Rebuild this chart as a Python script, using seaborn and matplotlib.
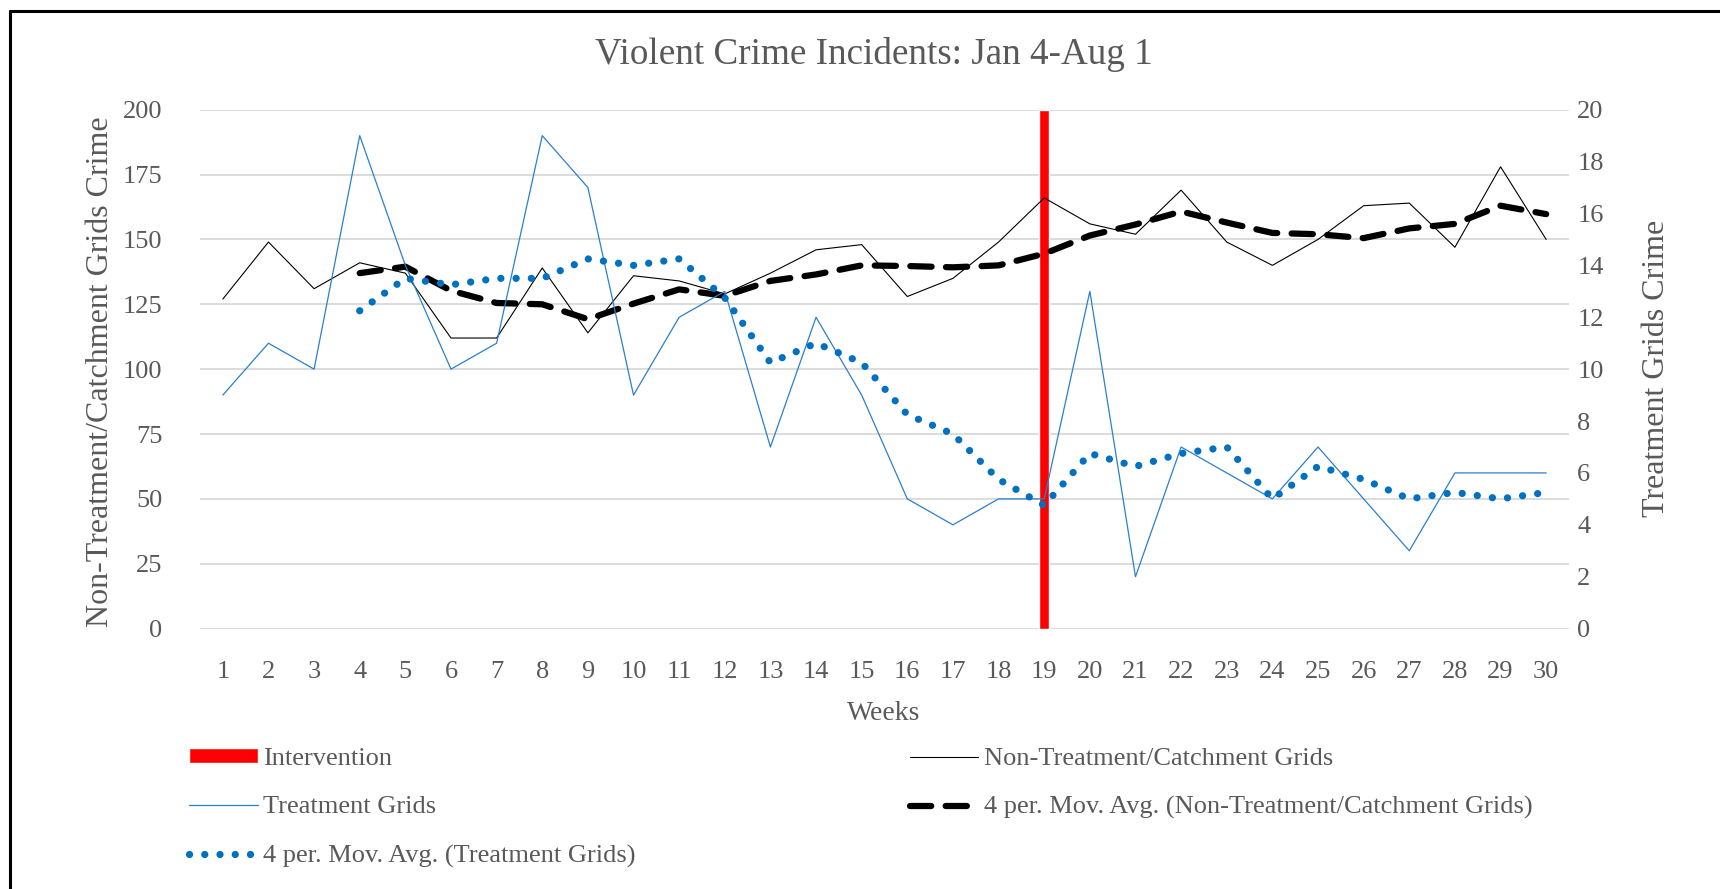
import numpy as np
import pandas as pd
import matplotlib.pyplot as plt
import seaborn as sns
from matplotlib.lines import Line2D

# weekly counts
weeks = list(range(1, 31))
non_treatment = [127, 149, 131, 141, 137, 112, 112, 139, 114, 136,
                 134, 129, 137, 146, 148, 128, 135, 149, 166, 156,
                 152, 169, 149, 140, 150, 163, 164, 147, 178, 150]
treatment = [9, 11, 10, 19, 14, 10, 11, 19, 17, 9,
             12, 13, 7, 12, 9, 5, 4, 5, 5, 13,
             2, 7, 6, 5, 7, 5, 3, 6, 6, 6]
intervention_week = [19]
intervention_height = [200]

left_ticks = list(range(0, 201, 25))
right_ticks = list(range(0, 21, 2))

df = pd.DataFrame({"week": weeks, "non_treatment": non_treatment, "treatment": treatment})
df["ma_non"] = df["non_treatment"].rolling(4).mean()
df["ma_treat"] = df["treatment"].rolling(4).mean()

sns.set_style("white")
plt.rcParams['font.family'] = ['Liberation Serif', 'DejaVu Serif']
text_col = '#595959'

W, H = 1720, 889
fig = plt.figure(figsize=(W / 100, H / 100), dpi=100)
ax = fig.add_axes([200 / W, 1 - 628.6 / H, 1369 / W, (628.6 - 109.7) / H])
ax2 = ax.twinx()

ma_non_style = dict(color='black', linewidth=4.5, linestyle=(0, (3.4, 2.3)), dash_capstyle='round')
ma_treat_style = dict(color='#0070C0', linewidth=5.2, linestyle=(0, (0.01, 2.1)), dash_capstyle='round')

bars = ax.bar(intervention_week, intervention_height, width=0.21, color='#FF0000', zorder=1)
sns.lineplot(data=df, x="week", y="non_treatment", ax=ax, color='black', linewidth=0.8,
             legend=False, zorder=3)
sns.lineplot(data=df, x="week", y="ma_non", ax=ax, legend=False, zorder=4, **ma_non_style)
sns.lineplot(data=df, x="week", y="treatment", ax=ax2, color='#2A7FCF', linewidth=0.9,
             legend=False)
sns.lineplot(data=df, x="week", y="ma_treat", ax=ax2, legend=False, **ma_treat_style)

ax.set_xlim(0.5, 30.5)
ax.set_ylim(0, 200)
ax2.set_ylim(0, 20)
ax.set_xticks(weeks)
ax.set_yticks(left_ticks)
ax2.set_yticks(right_ticks)
ax.yaxis.grid(True, color='#D9D9D9', linewidth=1.3)
ax.xaxis.grid(False)
ax2.grid(False)
for a in (ax, ax2):
    for s in a.spines.values():
        s.set_visible(False)
    a.set_xlabel('')
    a.set_ylabel('')
ax.tick_params(axis='y', length=0, pad=27, labelsize=19, labelcolor=text_col)
ax.tick_params(axis='x', length=0, pad=23, labelsize=19, labelcolor=text_col)
ax2.tick_params(axis='y', length=0, pad=6, labelsize=19, labelcolor=text_col)
ax.set_zorder(1)
ax2.set_zorder(2)
ax.patch.set_visible(False)

fig.text(874 / W, 1 - 54 / H, 'Violent Crime Incidents: Jan 4-Aug 1', ha='center', va='center',
         fontsize=26.7, color=text_col)
fig.text(101 / W, 1 - 372 / H, 'Non-Treatment/Catchment Grids Crime', rotation=90,
         ha='center', va='center', fontsize=23, color=text_col)
fig.text(1657 / W, 1 - 368 / H, 'Treatment Grids Crime', rotation=90,
         ha='center', va='center', fontsize=23, color=text_col)
fig.text(884 / W, 1 - 714 / H, 'Weeks', ha='center', va='center', fontsize=20, color=text_col)

# legend, Excel fills it row by row
h_int = bars.patches[0]
h_non = Line2D([], [], color='black', linewidth=0.8)
h_treat = Line2D([], [], color='#2A7FCF', linewidth=0.9)
h_ma_non = Line2D([], [], **ma_non_style)
h_ma_treat = Line2D([], [], **ma_treat_style)
leg = fig.legend([h_int, h_treat, h_ma_treat, h_non, h_ma_non],
                 ['Intervention', 'Treatment Grids', '4 per. Mov. Avg. (Treatment Grids)',
                  'Non-Treatment/Catchment Grids', '4 per. Mov. Avg. (Non-Treatment/Catchment Grids)'],
                 ncol=2, loc='upper left', bbox_to_anchor=(189 / W, 1 - 748 / H), frameon=False,
                 fontsize=19, handlelength=2.6, handleheight=0.5, handletextpad=0.2,
                 columnspacing=10.4, labelspacing=1.0, borderpad=0, borderaxespad=0)
for t in leg.get_texts():
    t.set_color(text_col)

fig.add_artist(Line2D([10 / W, 10 / W], [0, 1 - 11 / H], color='black', linewidth=2.2,
                      transform=fig.transFigure))
fig.add_artist(Line2D([10 / W, 1], [1 - 11 / H, 1 - 11 / H], color='black', linewidth=2.2,
                      transform=fig.transFigure))

fig.savefig('out.png', dpi=100)
